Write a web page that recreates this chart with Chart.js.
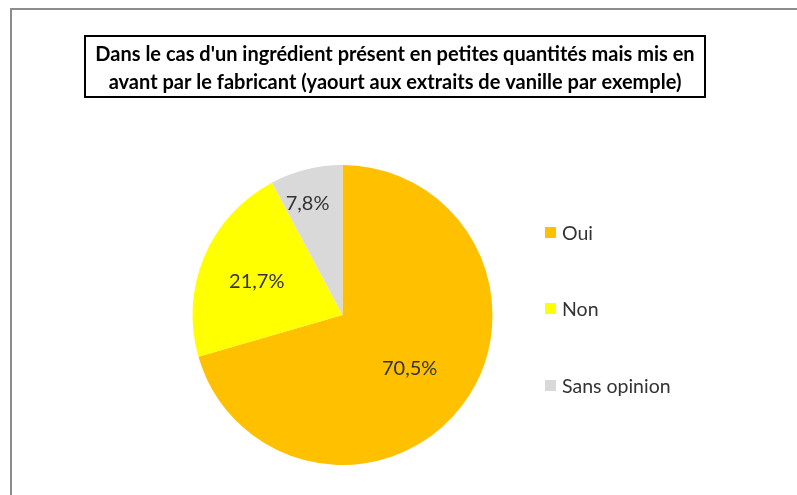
<!DOCTYPE html>
<html>
<head>
<meta charset="utf-8">
<script src="https://cdn.jsdelivr.net/npm/chart.js@4/dist/chart.umd.min.js"></script>
<style>
html,body{margin:0;padding:0;background:#fff;}
#wrap{width:797px;height:495px;}
</style>
</head>
<body>
<div id="wrap"><canvas id="c" width="797" height="495"></canvas></div>
<script>
const categories = ["Oui", "Non", "Sans opinion"];
const values = [70.5, 21.7, 7.8];
const sliceColors = ["#FFC000", "#FFFF00", "#D9D9D9"];
const titleLines = [
  "Dans le cas d'un ingrédient présent en petites quantités mais mis en",
  "avant par le fabricant (yaourt aux extraits de vanille par exemple)"
];

function fmt(v){ return v.toFixed(1).replace('.', ',') + '%'; }

const decor = {
  id: 'decor',
  afterDraw(chart) {
    const ctx = chart.ctx;
    ctx.save();
    // outer frame
    ctx.strokeStyle = '#8c8c8c';
    ctx.lineWidth = 2;
    ctx.strokeRect(11, 9, 800, 500);
    // title box
    ctx.strokeStyle = '#000';
    ctx.lineWidth = 2;
    ctx.strokeRect(85, 36, 620, 61);
    ctx.fillStyle = '#000';
    ctx.font = 'bold 20px Lato';
    ctx.textAlign = 'center';
    ctx.textBaseline = 'alphabetic';
    ctx.fillText(titleLines[0], 395, 61);
    ctx.fillText(titleLines[1], 395, 89);

    // data labels
    const meta = chart.getDatasetMeta(0);
    const fr = [0.56, 0.62, 0.80];
    const dAng = [0, 0, -0.05];
    ctx.fillStyle = '#333333';
    ctx.font = '20px Lato';
    ctx.textBaseline = 'middle';
    meta.data.forEach((arc, i) => {
      const p = arc.getProps(['x','y','startAngle','endAngle','outerRadius'], true);
      const a = (p.startAngle + p.endAngle) / 2 + dAng[i];
      const r = p.outerRadius * fr[i];
      ctx.fillText(fmt(values[i]), p.x + Math.cos(a) * r, p.y + Math.sin(a) * r + 3);
    });

    // legend
    ctx.textAlign = 'left';
    ctx.font = '19.5px Lato';
    const ys = [232.5, 308.5, 385.5];
    categories.forEach((c, i) => {
      ctx.fillStyle = sliceColors[i];
      ctx.fillRect(545, ys[i] - 5.5, 11, 11);
      ctx.fillStyle = '#333333';
      ctx.fillText(c, 562, ys[i] + 1);
    });
    ctx.restore();
  }
};

new Chart(document.getElementById('c'), {
  type: 'pie',
  data: {
    labels: categories,
    datasets: [{
      data: values,
      backgroundColor: sliceColors,
      borderWidth: 0
    }]
  },
  options: {
    responsive: false,
    animation: false,
    layout: { padding: { top: 165, bottom: 30, left: 192, right: 304 } },
    plugins: {
      legend: { display: false },
      title: { display: false },
      tooltip: { enabled: false }
    }
  },
  plugins: [decor]
});
</script>
</body>
</html>
